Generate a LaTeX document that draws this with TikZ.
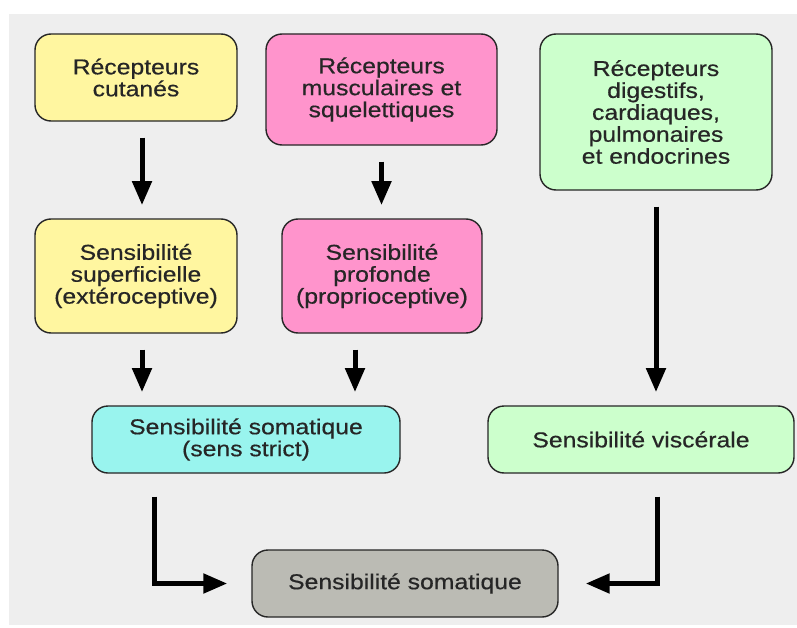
\documentclass[tikz,border=0pt]{standalone}
\usepackage{fontspec}
\setmainfont{Liberation Sans}[FakeStretch=1.15,FakeBold=0.5]
\usetikzlibrary{arrows.meta}
\definecolor{jaune}{RGB}{255,246,160}
\definecolor{rose}{RGB}{255,148,204}
\definecolor{vert}{RGB}{204,255,204}
\definecolor{cyan2}{RGB}{153,244,238}
\definecolor{gris}{RGB}{187,187,180}
\definecolor{fond}{RGB}{238,238,238}
\begin{document}
\begin{tikzpicture}[
  boite/.style={draw=black!85, line width=1pt, rounded corners=0.4cm, align=center,
    font=\fontsize{15.3pt}{15.6pt}\selectfont, text=black!85, inner sep=0pt},
  fleche/.style={line width=0.125cm, -{Triangle[width=0.475cm,length=0.6cm]},
    shorten <=0.4cm, shorten >=0.33cm}]
\useasboundingbox (0,0) rectangle (19.925,-15.675);
\fill[fond] (0.225,-0.35) rectangle (19.925,-15.625);
\node[boite, fill=jaune, minimum width=5.05cm, minimum height=2.175cm] (rc) at (3.4,-1.9375) {Récepteurs\\cutanés};
\node[boite, fill=rose, minimum width=5.775cm, minimum height=2.775cm] (rm) at (9.5375,-2.2375) {Récepteurs\\musculaires et\\squelettiques};
\node[boite, fill=vert, minimum width=5.8cm, minimum height=3.9cm] (rd) at (16.4,-2.8) {Récepteurs\\digestifs,\\cardiaques,\\pulmonaires\\et endocrines};
\node[boite, fill=jaune, minimum width=5.05cm, minimum height=2.85cm] (ss) at (3.4,-6.9) {Sensibilité\\superficielle\\(extéroceptive)};
\node[boite, fill=rose, minimum width=5cm, minimum height=2.85cm] (sp) at (9.55,-6.9) {Sensibilité\\profonde\\(proprioceptive)};
\node[boite, fill=cyan2, minimum width=7.7cm, minimum height=1.675cm] (sst) at (6.15,-10.9875) {Sensibilité somatique\\(sens strict)};
\node[boite, fill=vert, minimum width=7.65cm, minimum height=1.675cm] (sv) at (16.025,-10.9875) {Sensibilité viscérale};
\node[boite, fill=gris, minimum width=7.65cm, minimum height=1.675cm] (so) at (10.125,-14.5875) {Sensibilité somatique};
\draw[fleche] ([xshift=0.15cm]rc.south) -- ([xshift=0.15cm]rc.south |- ss.north);
\draw[fleche] (rm.south) -- (rm.south |- sp.north);
\draw[fleche] (rd.south) -- (rd.south |- sv.north);
\draw[fleche] ([xshift=0.15cm]ss.south) -- ([xshift=0.15cm]ss.south |- sst.north);
\draw[fleche] ([xshift=-0.675cm]sp.south) -- ([xshift=-0.675cm]sp.south |- sst.north);
\draw[fleche, shorten <=0.575cm, shorten >=0.6cm] ([xshift=-2.3cm]sst.south) |- (so.west);
\draw[fleche, shorten <=0.575cm, shorten >=0.675cm] ([xshift=0.4cm]sv.south) |- (so.east);
\end{tikzpicture}
\end{document}
